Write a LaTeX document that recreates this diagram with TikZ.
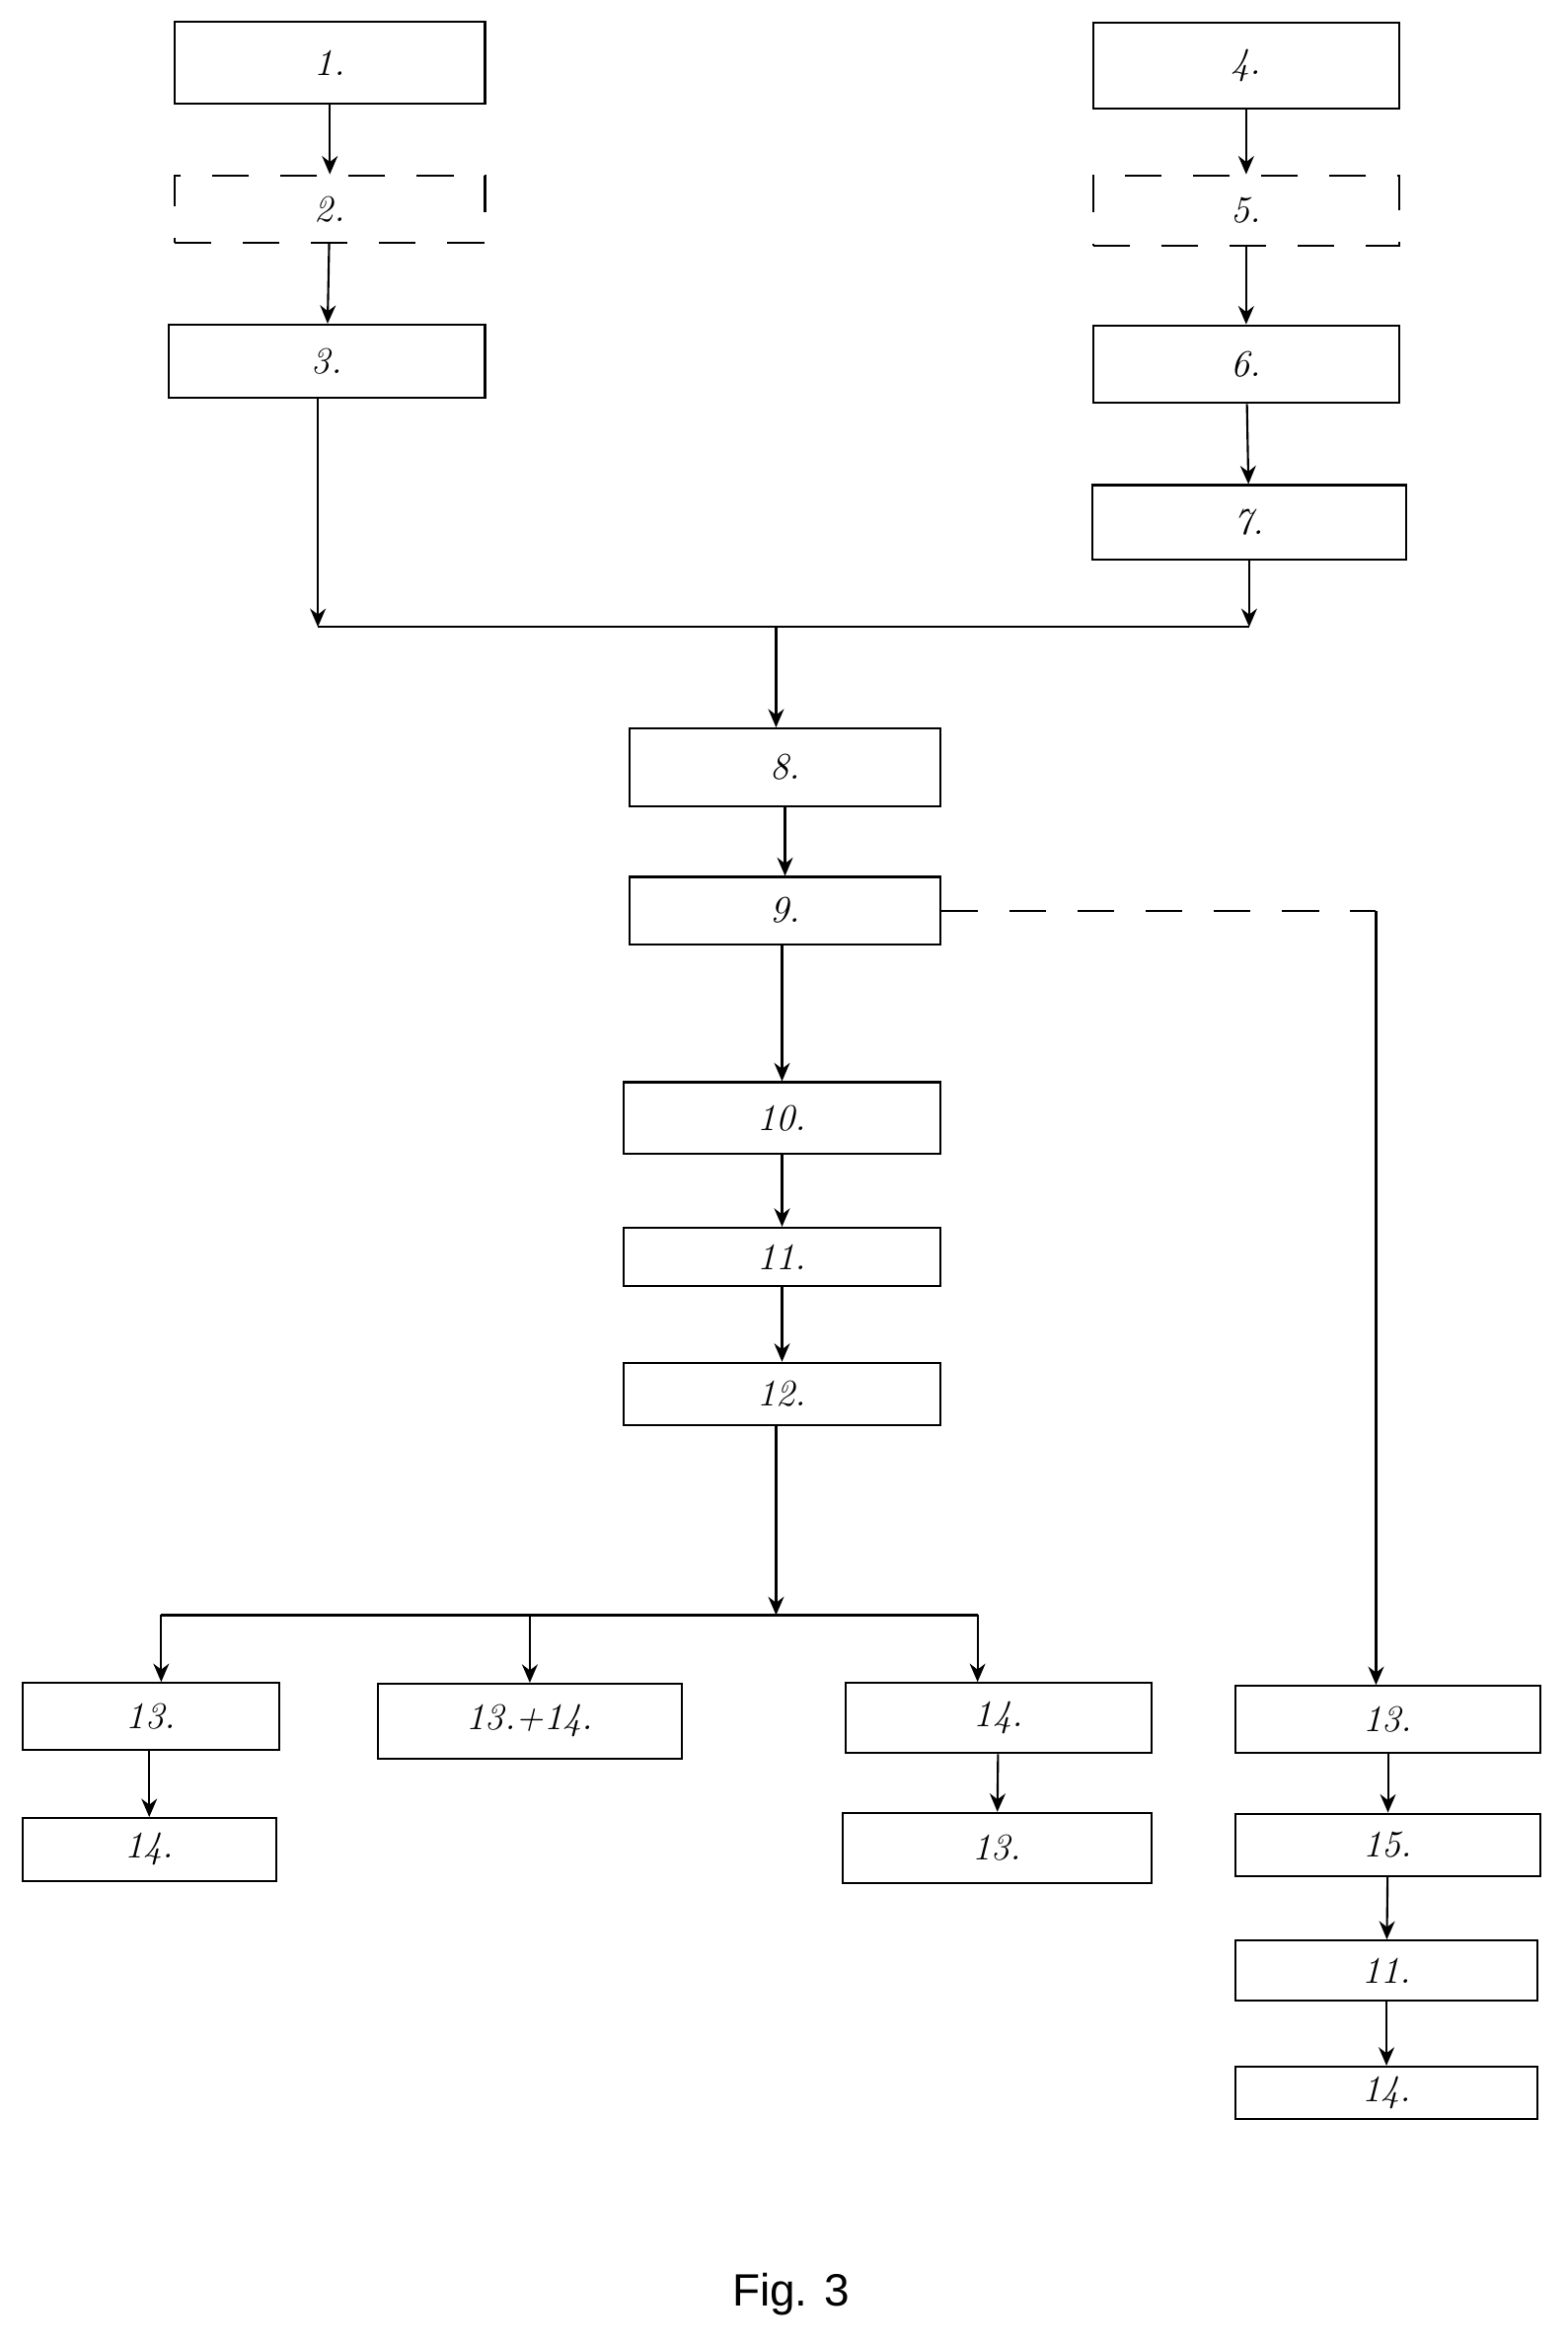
\documentclass[tikz,border=0pt]{standalone}
\usepackage{fontspec}
\setsansfont{Liberation Sans}
\usetikzlibrary{arrows.meta}
\begin{document}
\begin{tikzpicture}[x=0.02cm, y=-0.02cm, thick, >={Stealth[length=7pt,width=6pt]}]
    \tikzset{box/.style={draw, rectangle, inner sep=0pt, font=\Large\itshape}};
    \tikzset{dbox/.style={box, dashed, dash pattern=on 14pt off 12pt}};
    \useasboundingbox (0,0) rectangle (1050,1571);

    % Left input chain
    \node [box, minimum width=4.16cm, minimum height=1.1cm] (n1) at (221, 42) {1.};
    \node [dbox, minimum width=4.16cm, minimum height=0.9cm] (n2) at (221, 140) {2.};
    \node [box, minimum width=4.24cm, minimum height=0.98cm] (n3) at (219, 242) {3.};

    % Right input chain
    \node [box, minimum width=4.1cm, minimum height=1.16cm] (n4) at (835, 44) {4.};
    \node [dbox, minimum width=4.1cm, minimum height=0.94cm] (n5) at (835, 141) {5.};
    \node [box, minimum width=4.1cm, minimum height=1.04cm] (n6) at (835, 244) {6.};
    \node [box, minimum width=4.2cm, minimum height=1.0cm] (n7) at (837, 350) {7.};

    % Middle chain
    \node [box, minimum width=4.16cm, minimum height=1.04cm] (n8) at (526, 514) {8.};
    \node [box, minimum width=4.16cm, minimum height=0.9cm] (n9) at (526, 610) {9.};
    \node [box, minimum width=4.24cm, minimum height=0.96cm] (n10) at (524, 749) {10.};
    \node [box, minimum width=4.24cm, minimum height=0.78cm] (n11) at (524, 842) {11.};
    \node [box, minimum width=4.24cm, minimum height=0.84cm] (n12) at (524, 934) {12.};

    % Lower branches
    \node [box, minimum width=3.44cm, minimum height=0.9cm] (a13) at (101, 1150) {13.};
    \node [box, minimum width=3.4cm, minimum height=0.84cm] (a14) at (100, 1239) {14.};
    \node [box, minimum width=4.08cm, minimum height=1.0cm] (b1314) at (355, 1153) {13.+14.};
    \node [box, minimum width=4.1cm, minimum height=0.94cm] (c14) at (669, 1151) {14.};
    \node [box, minimum width=4.14cm, minimum height=0.94cm] (c13) at (668, 1238) {13.};

    % Right branch
    \node [box, minimum width=4.08cm, minimum height=0.9cm] (r13) at (930, 1152) {13.};
    \node [box, minimum width=4.08cm, minimum height=0.84cm] (r15) at (930, 1236) {15.};
    \node [box, minimum width=4.04cm, minimum height=0.8cm] (r11) at (929, 1320) {11.};
    \node [box, minimum width=4.04cm, minimum height=0.7cm] (r14) at (929, 1402) {14.};

    % Junctions
    \coordinate (jl) at (213, 420);
    \coordinate (jr) at (837, 420);
    \coordinate (j) at (520, 420);
    \coordinate (sl) at (108, 1082);
    \coordinate (sm) at (355, 1082);
    \coordinate (sr) at (655, 1082);
    \coordinate (s) at (520, 1082);
    \coordinate (d) at (922, 610);

    % Edges
    \draw [->] (n1) -- (n2);
    \draw [->] (n2) -- (n3);
    \draw [->] (n4) -- (n5);
    \draw [->] (n5) -- (n6);
    \draw [->] (n6) -- (n7);
    \draw [->] (n3.south -| jl) -- (jl);
    \draw [->] (n7) -- (jr);
    \draw (jl) -- (jr);
    \draw [->] (j) -- (j |- n8.north);
    \draw [->] (n9 |- n8.south) -- (n9);
    \foreach \i/\j in {9/10, 10/11, 11/12} { \draw [->] (n10 |- n\i.south) -- (n10 |- n\j.north); }
    \draw [->] (s |- n12.south) -- (s);
    \draw (sl) -- (sr);
    \draw [->] (sl) -- (sl |- a13.north);
    \draw [->] (sm) -- (b1314);
    \draw [->] (sr) -- (sr |- c14.north);
    \draw [->] (a14 |- a13.south) -- (a14);
    \draw [->] (c14) -- (c13);
    \draw [dashed, dash pattern=on 14pt off 12pt] (n9.east) -- (d);
    \draw [->] (d) -- (d |- r13.north);
    \draw [->] (r13) -- (r15);
    \draw [->] (r15) -- (r11);
    \draw [->] (r11) -- (r14);

    % Label
    \node (cap) at (530, 1537) {\sffamily\LARGE Fig. 3};
\end{tikzpicture}
\end{document}
